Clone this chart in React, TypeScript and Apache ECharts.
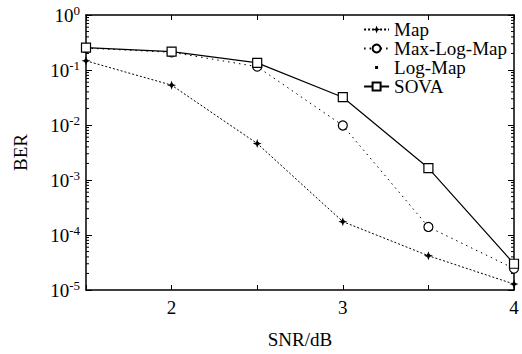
import React, { useEffect, useRef } from "react";
import * as echarts from "echarts";

const snr = [1.5, 2, 2.5, 3, 3.5, 4];
const berMap = [0.147, 0.053, 0.0046, 1.75e-4, 4.2e-5, 1.28e-5];
const berMaxLogMap = [0.25, 0.21, 0.115, 0.0098, 1.4e-4, 2.45e-5];
const berLogMap = [0.147, 0.053, 0.0046, 1.75e-4, 4.2e-5, 1.28e-5];
const berSova = [0.255, 0.215, 0.135, 0.032, 1.65e-3, 3.0e-5];
const decades = [1e-5, 1e-4, 1e-3, 1e-2, 1e-1];
const minorFactors = [2, 3, 4, 5, 6, 7, 8, 9];
const xTicksMajor = [2, 3, 4];

const FONT = "'Liberation Serif', 'Times New Roman', Times, serif";
const STAR = "path://M0,-5 L1.3,-1.3 L5,0 L1.3,1.3 L0,5 L-1.3,1.3 L-5,0 L-1.3,-1.3 Z";
const SMALL_SQ = "path://M0,0 L0.01,0 M25,10 L25.01,10 M11,3.5 L14,3.5 L14,6.5 L11,6.5 Z";

export default function App() {
  const ref = useRef<HTMLDivElement>(null);
  useEffect(() => {
    if (!ref.current) return;
    const chart = echarts.init(ref.current, null, { renderer: "svg" });
    const pair = (ys: number[]) => snr.map((x, i) => [x, ys[i]]);
    const minorData: number[][] = [];
    decades.forEach((d) => minorFactors.forEach((f) => minorData.push([1.5, d * f])));
    const supLabel = (v: number) => {
      const e = Math.round(Math.log10(v));
      return "{b|10}{s|" + e + "}";
    };
    chart.setOption({
      animation: false,
      backgroundColor: "#fff",
      grid: { left: 86, top: 15, right: 8, bottom: 57, containLabel: false },
      legend: {
        data: [
          { name: "Map" },
          { name: "Max-Log-Map" },
          { name: "Log-Map", icon: SMALL_SQ },
          { name: "SOVA" },
        ],
        right: 10,
        top: 15,
        orient: "vertical",
        itemGap: 0,
        itemWidth: 25,
        itemHeight: 10,
        align: "left",
        textStyle: { fontFamily: FONT, fontSize: 19, lineHeight: 17, color: "#000" },
      },
      xAxis: [
        {
          type: "value",
          min: 1.5,
          max: 4,
          interval: 0.5,
          name: "SNR/dB",
          nameLocation: "middle",
          nameGap: 40,
          nameTextStyle: { fontFamily: FONT, fontSize: 19, color: "#000" },
          axisLine: { lineStyle: { color: "#000", width: 1.5 } },
          axisTick: { inside: true, length: 5, lineStyle: { color: "#000" } },
          splitLine: { show: false },
          axisLabel: {
            fontFamily: FONT,
            fontSize: 19,
            color: "#000",
            margin: 8,
            formatter: (v: number) => (xTicksMajor.includes(v) ? String(v) : ""),
          },
        },
        {
          type: "value",
          position: "top",
          min: 1.5,
          max: 4,
          interval: 0.5,
          axisLine: { show: true, onZero: false, lineStyle: { color: "#000", width: 1.5 } },
          axisTick: { inside: true, length: 5, lineStyle: { color: "#000" } },
          axisLabel: { show: false },
          splitLine: { show: false },
        },
      ],
      yAxis: [
        {
          type: "log",
          logBase: 10,
          min: 1e-5,
          max: 1,
          name: "BER",
          nameLocation: "middle",
          nameGap: 56,
          nameRotate: 90,
          nameTextStyle: { fontFamily: FONT, fontSize: 19, color: "#000" },
          axisLine: { lineStyle: { color: "#000", width: 1.5 } },
          axisTick: { inside: true, length: 6, lineStyle: { color: "#000" } },
          splitLine: { show: false },
          axisLabel: {
            margin: 6,
            formatter: supLabel,
            rich: {
              b: { fontFamily: FONT, fontSize: 19, color: "#000" },
              s: { fontFamily: FONT, fontSize: 13, color: "#000", verticalAlign: "top", padding: [0, 0, 9, 0] },
            },
          },
        },
        {
          type: "log",
          logBase: 10,
          min: 1e-5,
          max: 1,
          position: "right",
          axisLine: { show: true, lineStyle: { color: "#000", width: 1.5 } },
          axisTick: { inside: true, length: 6, lineStyle: { color: "#000" } },
          axisLabel: { show: false },
          splitLine: { show: false },
        },
      ],
      series: [
        {
          type: "custom",
          name: "minorTicks",
          silent: true,
          data: minorData,
          clip: false,
          renderItem: (params: any, api: any) => {
            const p = api.coord([api.value(0), api.value(1)]);
            const cs = params.coordSys;
            const y = p[1];
            return {
              type: "group",
              children: [
                { type: "line", shape: { x1: cs.x, y1: y, x2: cs.x + 3, y2: y }, style: { stroke: "#000", lineWidth: 1 } },
                { type: "line", shape: { x1: cs.x + cs.width - 3, y1: y, x2: cs.x + cs.width, y2: y }, style: { stroke: "#000", lineWidth: 1 } },
              ],
            };
          },
        },
        {
          name: "Map",
          type: "line",
          data: pair(berMap),
          symbol: STAR,
          symbolSize: 9,
          itemStyle: { color: "#000" },
          lineStyle: { color: "#000", width: 1, type: [2, 2] },
        },
        {
          name: "Max-Log-Map",
          type: "line",
          data: pair(berMaxLogMap),
          symbol: "circle",
          symbolSize: 9,
          itemStyle: { color: "#fff", borderColor: "#000", borderWidth: 1.2 },
          lineStyle: { color: "#000", width: 1, type: [1.5, 4] },
        },
        {
          name: "Log-Map",
          type: "line",
          data: pair(berLogMap),
          symbol: "rect",
          symbolSize: 3,
          itemStyle: { color: "#000" },
          lineStyle: { width: 0, opacity: 0 },
        },
        {
          name: "SOVA",
          type: "line",
          data: pair(berSova),
          symbol: "rect",
          symbolSize: 9,
          itemStyle: { color: "#fff", borderColor: "#000", borderWidth: 1.2 },
          lineStyle: { color: "#000", width: 1.2, type: "solid" },
        },
      ],
    });
    return () => chart.dispose();
  }, []);
  return (
    <div
      ref={ref}
      style={{ position: "fixed", left: 0, top: 0, width: 522, height: 354, background: "#fff" }}
    />
  );
}
